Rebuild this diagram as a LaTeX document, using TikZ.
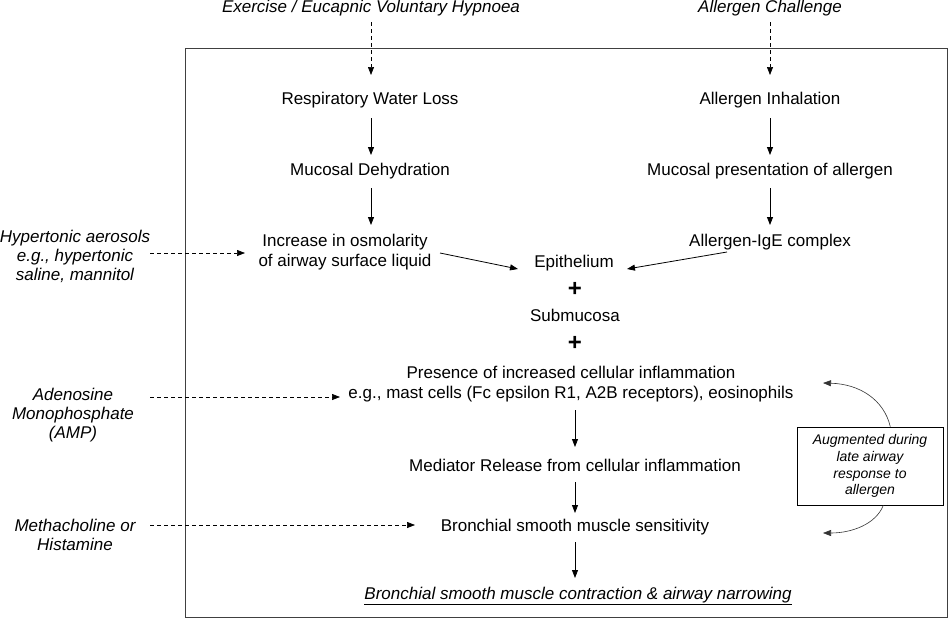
\documentclass[tikz,border=0pt]{standalone}
\usepackage{fontspec}
\setmainfont{Liberation Sans}
\usetikzlibrary{arrows.meta}
\begin{document}
\begin{tikzpicture}[x=1pt,y=-1pt,
  every node/.style={inner sep=0pt,font=\fontsize{17}{20.5}\selectfont,align=center},
  lbl/.style={font=\fontsize{17}{19}\selectfont\itshape},
  toplbl/.style={font=\fontsize{17}{19}\selectfont\itshape},
  arr/.style={-{Triangle[length=8pt,width=6pt]},line width=0.8pt},
  darr/.style={-{Triangle[length=8pt,width=6pt]},line width=0.7pt,dash pattern=on 4pt off 3pt},
  carr/.style={-{Triangle[length=8pt,width=6pt]},line width=0.6pt,draw=black!80}]
\useasboundingbox (0,0) rectangle (951,619);
\draw[line width=1pt,draw=black!75] (185,48) rectangle (947,617);
% top labels
\node[toplbl] (ex) at (371,8) {Exercise / Eucapnic Voluntary Hypnoea};
\node[toplbl] (ac) at (770,8) {Allergen Challenge};
\coordinate (exa) at (371,22);
\coordinate (aca) at (770,22);
% left column
\node (rwl) at (370,100) {Respiratory Water Loss};
\node (md) at (370,171) {Mucosal Dehydration};
\node (osm) at (345,252) {Increase in osmolarity\\of airway surface liquid};
% right column
\node (ai) at (770,100) {Allergen Inhalation};
\node (mp) at (770,171) {Mucosal presentation of allergen};
\node (ige) at (770,242) {Allergen-IgE complex};
% center
\node (epi) at (574,263) {Epithelium};
\node (p1) at (575,289) {\fontsize{24}{24}\selectfont\bfseries +};
\node (sub) at (575,315) {Submucosa};
\node (p2) at (575,343) {\fontsize{24}{24}\selectfont\bfseries +};
\node (pres) at (571,384) {Presence of increased cellular inflammation\\e.g., mast cells (Fc epsilon R1, A2B receptors), eosinophils};
\node (med) at (575,465) {Mediator Release from cellular inflammation};
\node (bsm) at (575,527) {Bronchial smooth muscle sensitivity};
\node (bc) at (578,596) {\itshape\underline{Bronchial smooth muscle contraction \& airway narrowing}};
% left labels
\node[lbl] (hyp) at (75,256) {Hypertonic aerosols\\e.g., hypertonic\\saline, mannitol};
\node[lbl] (amp) at (73,415) {Adenosine\\Monophosphate\\(AMP)};
\node[lbl] (mch) at (75,535) {Methacholine or\\Histamine};
% right box
\node[draw,line width=0.6pt,minimum width=146pt,minimum height=78pt,font=\fontsize{14}{16.8}\selectfont\itshape] (aug) at (870,466) {Augmented during\\late airway\\response to\\allergen};
% arrows
\draw[darr] (exa) -- (371,75);
\draw[darr] (aca) -- (770,75);
\draw[arr] (371,118) -- (371,155);
\draw[arr] (371,188) -- (371,225);
\draw[arr] (770,118) -- (770,155);
\draw[arr] (770,188) -- (770,225);
\draw[arr] (440,253) -- (518,269);
\draw[arr] (727,252) -- (627,269);
\draw[arr] (575,410) -- (575,447);
\draw[arr] (575,482) -- (575,513);
\draw[arr] (575,542) -- (575,578);
\draw[darr] (150,253) -- (245,253);
\draw[darr] (150,397) -- (340,397);
\draw[darr] (150,525) -- (415,525);
\draw[carr] (aug.north east) ++(-53,0) .. controls (884,400) and (860,384) .. (823,383);
\draw[carr] (aug.south east) ++(-60,0) .. controls (876,524) and (852,533) .. (823,533);
\end{tikzpicture}
\end{document}
